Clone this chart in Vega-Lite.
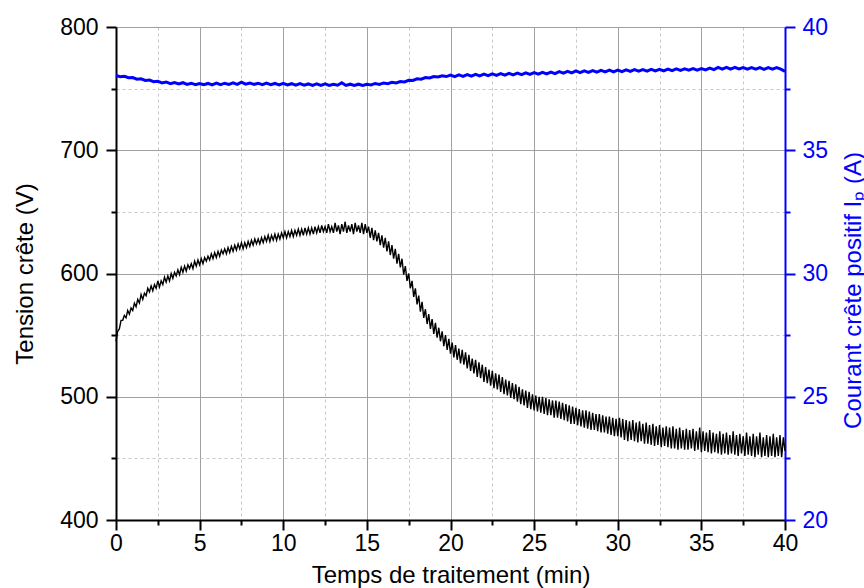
{
"$schema": "https://vega.github.io/schema/vega-lite/v6.json",
"width": 669, "height": 493,
"autosize": {"type": "none"},
"padding": {"left": 116, "top": 27, "right": 79, "bottom": 68},
"background": "white",
"config": {"view": {"stroke": null}, "font": "Liberation Sans"},
"datasets": {
"tension": [
{"t":0,"v":545},{"t":0.1,"v":553},{"t":0.2,"v":555},{"t":0.3,"v":562},{"t":0.4,"v":562},{"t":0.5,"v":566},{"t":0.6,"v":564},{"t":0.7,"v":570},{"t":0.8,"v":567},{"t":0.9,"v":572},
{"t":1,"v":570},{"t":1.1,"v":576},{"t":1.2,"v":573},{"t":1.3,"v":579},{"t":1.4,"v":576},{"t":1.5,"v":583},{"t":1.6,"v":579},{"t":1.7,"v":584},{"t":1.8,"v":582},{"t":1.9,"v":588},
{"t":2,"v":585},{"t":2.1,"v":590},{"t":2.2,"v":586},{"t":2.3,"v":591},{"t":2.4,"v":588},{"t":2.5,"v":594},{"t":2.6,"v":589},{"t":2.7,"v":594},{"t":2.8,"v":591},{"t":2.9,"v":597},
{"t":3,"v":593},{"t":3.1,"v":598},{"t":3.2,"v":594},{"t":3.3,"v":600},{"t":3.4,"v":596},{"t":3.5,"v":601},{"t":3.6,"v":598},{"t":3.7,"v":603},{"t":3.8,"v":599},{"t":3.9,"v":605},
{"t":4,"v":601},{"t":4.1,"v":606},{"t":4.2,"v":602},{"t":4.3,"v":607},{"t":4.4,"v":604},{"t":4.5,"v":608},{"t":4.6,"v":604},{"t":4.7,"v":610},{"t":4.8,"v":606},{"t":4.9,"v":611},
{"t":5,"v":607},{"t":5.1,"v":612},{"t":5.2,"v":608},{"t":5.3,"v":613},{"t":5.4,"v":610},{"t":5.5,"v":614},{"t":5.6,"v":611},{"t":5.7,"v":616},{"t":5.8,"v":612},{"t":5.9,"v":617},
{"t":6,"v":613},{"t":6.1,"v":618},{"t":6.2,"v":614},{"t":6.3,"v":619},{"t":6.4,"v":616},{"t":6.5,"v":620},{"t":6.6,"v":616},{"t":6.7,"v":621},{"t":6.8,"v":617},{"t":6.9,"v":622},
{"t":7,"v":618},{"t":7.1,"v":623},{"t":7.2,"v":619},{"t":7.3,"v":624},{"t":7.4,"v":620},{"t":7.5,"v":625},{"t":7.6,"v":620},{"t":7.7,"v":625},{"t":7.8,"v":621},{"t":7.9,"v":626},
{"t":8,"v":622},{"t":8.1,"v":627},{"t":8.2,"v":623},{"t":8.3,"v":628},{"t":8.4,"v":624},{"t":8.5,"v":628},{"t":8.6,"v":624},{"t":8.7,"v":629},{"t":8.8,"v":625},{"t":8.9,"v":630},
{"t":9,"v":626},{"t":9.1,"v":631},{"t":9.2,"v":626},{"t":9.3,"v":631},{"t":9.4,"v":627},{"t":9.5,"v":632},{"t":9.6,"v":627},{"t":9.7,"v":632},{"t":9.8,"v":628},{"t":9.9,"v":633},
{"t":10,"v":629},{"t":10.1,"v":634},{"t":10.2,"v":629},{"t":10.3,"v":634},{"t":10.4,"v":630},{"t":10.5,"v":635},{"t":10.6,"v":630},{"t":10.7,"v":635},{"t":10.8,"v":631},{"t":10.9,"v":636},
{"t":11,"v":631},{"t":11.1,"v":636},{"t":11.2,"v":631},{"t":11.3,"v":637},{"t":11.4,"v":632},{"t":11.5,"v":637},{"t":11.6,"v":632},{"t":11.7,"v":637},{"t":11.8,"v":632},{"t":11.9,"v":638},
{"t":12,"v":633},{"t":12.1,"v":638},{"t":12.2,"v":633},{"t":12.3,"v":639},{"t":12.4,"v":634},{"t":12.5,"v":638},{"t":12.6,"v":633},{"t":12.7,"v":640},{"t":12.8,"v":634},{"t":12.9,"v":638},
{"t":13,"v":633},{"t":13.1,"v":641},{"t":13.2,"v":634},{"t":13.3,"v":639},{"t":13.4,"v":632},{"t":13.5,"v":640},{"t":13.6,"v":634},{"t":13.7,"v":642},{"t":13.8,"v":633},{"t":13.9,"v":639},
{"t":14,"v":634},{"t":14.1,"v":640},{"t":14.2,"v":632},{"t":14.3,"v":641},{"t":14.4,"v":634},{"t":14.5,"v":639},{"t":14.6,"v":633},{"t":14.7,"v":641},{"t":14.8,"v":632},{"t":14.9,"v":640},
{"t":15,"v":633},{"t":15.1,"v":638},{"t":15.2,"v":629},{"t":15.3,"v":637},{"t":15.4,"v":627},{"t":15.5,"v":635},{"t":15.6,"v":626},{"t":15.7,"v":633},{"t":15.8,"v":623},{"t":15.9,"v":631},
{"t":16,"v":621},{"t":16.1,"v":629},{"t":16.2,"v":618},{"t":16.3,"v":626},{"t":16.4,"v":615},{"t":16.5,"v":623},{"t":16.6,"v":612},{"t":16.7,"v":620},{"t":16.8,"v":608},{"t":16.9,"v":616},
{"t":17,"v":605},{"t":17.1,"v":612},{"t":17.2,"v":599},{"t":17.3,"v":606},{"t":17.4,"v":594},{"t":17.5,"v":600},{"t":17.6,"v":588},{"t":17.7,"v":594},{"t":17.8,"v":581},{"t":17.9,"v":588},
{"t":18,"v":575},{"t":18.1,"v":582},{"t":18.2,"v":569},{"t":18.3,"v":577},{"t":18.4,"v":564},{"t":18.5,"v":571},{"t":18.6,"v":559},{"t":18.7,"v":567},{"t":18.8,"v":555},{"t":18.9,"v":563},
{"t":19,"v":551},{"t":19.1,"v":560},{"t":19.2,"v":548},{"t":19.3,"v":556},{"t":19.4,"v":545},{"t":19.5,"v":553},{"t":19.6,"v":541},{"t":19.7,"v":550},{"t":19.8,"v":538},{"t":19.9,"v":547},
{"t":20,"v":535},{"t":20.1,"v":544},{"t":20.2,"v":532},{"t":20.3,"v":542},{"t":20.4,"v":530},{"t":20.5,"v":539},{"t":20.6,"v":527},{"t":20.7,"v":538},{"t":20.8,"v":526},{"t":20.9,"v":536},
{"t":21,"v":523},{"t":21.1,"v":534},{"t":21.2,"v":521},{"t":21.3,"v":531},{"t":21.4,"v":519},{"t":21.5,"v":530},{"t":21.6,"v":516},{"t":21.7,"v":528},{"t":21.8,"v":515},{"t":21.9,"v":526},
{"t":22,"v":512},{"t":22.1,"v":524},{"t":22.2,"v":511},{"t":22.3,"v":522},{"t":22.4,"v":509},{"t":22.5,"v":521},{"t":22.6,"v":507},{"t":22.7,"v":519},{"t":22.8,"v":506},{"t":22.9,"v":518},
{"t":23,"v":504},{"t":23.1,"v":516},{"t":23.2,"v":502},{"t":23.3,"v":514},{"t":23.4,"v":501},{"t":23.5,"v":513},{"t":23.6,"v":499},{"t":23.7,"v":511},{"t":23.8,"v":498},{"t":23.9,"v":510},
{"t":24,"v":496},{"t":24.1,"v":508},{"t":24.2,"v":494},{"t":24.3,"v":506},{"t":24.4,"v":493},{"t":24.5,"v":505},{"t":24.6,"v":491},{"t":24.7,"v":504},{"t":24.8,"v":490},{"t":24.9,"v":502},
{"t":25,"v":489},{"t":25.1,"v":501},{"t":25.2,"v":488},{"t":25.3,"v":500},{"t":25.4,"v":487},{"t":25.5,"v":500},{"t":25.6,"v":486},{"t":25.7,"v":499},{"t":25.8,"v":485},{"t":25.9,"v":498},
{"t":26,"v":485},{"t":26.1,"v":497},{"t":26.2,"v":483},{"t":26.3,"v":497},{"t":26.4,"v":483},{"t":26.5,"v":496},{"t":26.6,"v":482},{"t":26.7,"v":495},{"t":26.8,"v":481},{"t":26.9,"v":494},
{"t":27,"v":480},{"t":27.1,"v":493},{"t":27.2,"v":478},{"t":27.3,"v":492},{"t":27.4,"v":478},{"t":27.5,"v":491},{"t":27.6,"v":477},{"t":27.7,"v":490},{"t":27.8,"v":476},{"t":27.9,"v":489},
{"t":28,"v":475},{"t":28.1,"v":489},{"t":28.2,"v":474},{"t":28.3,"v":488},{"t":28.4,"v":473},{"t":28.5,"v":487},{"t":28.6,"v":473},{"t":28.7,"v":486},{"t":28.8,"v":472},{"t":28.9,"v":486},
{"t":29,"v":471},{"t":29.1,"v":485},{"t":29.2,"v":471},{"t":29.3,"v":484},{"t":29.4,"v":470},{"t":29.5,"v":484},{"t":29.6,"v":469},{"t":29.7,"v":483},{"t":29.8,"v":468},{"t":29.9,"v":482},
{"t":30,"v":468},{"t":30.1,"v":483},{"t":30.2,"v":467},{"t":30.3,"v":482},{"t":30.4,"v":465},{"t":30.5,"v":481},{"t":30.6,"v":464},{"t":30.7,"v":480},{"t":30.8,"v":465},{"t":30.9,"v":481},
{"t":31,"v":464},{"t":31.1,"v":479},{"t":31.2,"v":463},{"t":31.3,"v":480},{"t":31.4,"v":464},{"t":31.5,"v":478},{"t":31.6,"v":462},{"t":31.7,"v":479},{"t":31.8,"v":462},{"t":31.9,"v":477},
{"t":32,"v":461},{"t":32.1,"v":478},{"t":32.2,"v":460},{"t":32.3,"v":476},{"t":32.4,"v":461},{"t":32.5,"v":477},{"t":32.6,"v":459},{"t":32.7,"v":475},{"t":32.8,"v":460},{"t":32.9,"v":476},
{"t":33,"v":459},{"t":33.1,"v":475},{"t":33.2,"v":458},{"t":33.3,"v":476},{"t":33.4,"v":458},{"t":33.5,"v":474},{"t":33.6,"v":457},{"t":33.7,"v":475},{"t":33.8,"v":458},{"t":33.9,"v":473},
{"t":34,"v":457},{"t":34.1,"v":474},{"t":34.2,"v":457},{"t":34.3,"v":473},{"t":34.4,"v":458},{"t":34.5,"v":474},{"t":34.6,"v":456},{"t":34.7,"v":472},{"t":34.8,"v":457},{"t":34.9,"v":475},
{"t":35,"v":455},{"t":35.1,"v":472},{"t":35.2,"v":456},{"t":35.3,"v":471},{"t":35.4,"v":455},{"t":35.5,"v":473},{"t":35.6,"v":454},{"t":35.7,"v":471},{"t":35.8,"v":455},{"t":35.9,"v":470},
{"t":36,"v":454},{"t":36.1,"v":472},{"t":36.2,"v":453},{"t":36.3,"v":470},{"t":36.4,"v":454},{"t":36.5,"v":471},{"t":36.6,"v":453},{"t":36.7,"v":469},{"t":36.8,"v":454},{"t":36.9,"v":472},
{"t":37,"v":453},{"t":37.1,"v":469},{"t":37.2,"v":452},{"t":37.3,"v":470},{"t":37.4,"v":454},{"t":37.5,"v":468},{"t":37.6,"v":452},{"t":37.7,"v":471},{"t":37.8,"v":453},{"t":37.9,"v":468},
{"t":38,"v":452},{"t":38.1,"v":470},{"t":38.2,"v":451},{"t":38.3,"v":468},{"t":38.4,"v":453},{"t":38.5,"v":471},{"t":38.6,"v":451},{"t":38.7,"v":467},{"t":38.8,"v":452},{"t":38.9,"v":469},
{"t":39,"v":451},{"t":39.1,"v":468},{"t":39.2,"v":452},{"t":39.3,"v":470},{"t":39.4,"v":451},{"t":39.5,"v":467},{"t":39.6,"v":452},{"t":39.7,"v":469},{"t":39.8,"v":451},{"t":39.9,"v":467},
{"t":40,"v":456}
],
"courant": [
{"t":0,"i":38.03},{"t":0.25,"i":37.98},{"t":0.5,"i":38.0},{"t":0.75,"i":37.94},{"t":1,"i":37.95},{"t":1.25,"i":37.88},{"t":1.5,"i":37.9},{"t":1.75,"i":37.83},
{"t":2,"i":37.85},{"t":2.25,"i":37.78},{"t":2.5,"i":37.8},{"t":2.75,"i":37.73},{"t":3,"i":37.77},{"t":3.25,"i":37.7},{"t":3.5,"i":37.75},{"t":3.75,"i":37.69},
{"t":4,"i":37.74},{"t":4.25,"i":37.67},{"t":4.5,"i":37.72},{"t":4.75,"i":37.66},{"t":5,"i":37.71},{"t":5.25,"i":37.66},{"t":5.5,"i":37.71},{"t":5.75,"i":37.65},
{"t":6,"i":37.72},{"t":6.25,"i":37.66},{"t":6.5,"i":37.72},{"t":6.75,"i":37.67},{"t":7,"i":37.73},{"t":7.25,"i":37.67},{"t":7.5,"i":37.76},{"t":7.75,"i":37.68},
{"t":8,"i":37.73},{"t":8.25,"i":37.67},{"t":8.5,"i":37.72},{"t":8.75,"i":37.66},{"t":9,"i":37.72},{"t":9.25,"i":37.66},{"t":9.5,"i":37.71},{"t":9.75,"i":37.65},
{"t":10,"i":37.71},{"t":10.25,"i":37.65},{"t":10.5,"i":37.7},{"t":10.75,"i":37.64},{"t":11,"i":37.7},{"t":11.25,"i":37.64},{"t":11.5,"i":37.69},{"t":11.75,"i":37.63},
{"t":12,"i":37.69},{"t":12.25,"i":37.63},{"t":12.5,"i":37.69},{"t":12.75,"i":37.63},{"t":13,"i":37.68},{"t":13.25,"i":37.64},{"t":13.5,"i":37.74},{"t":13.75,"i":37.63},
{"t":14,"i":37.68},{"t":14.25,"i":37.63},{"t":14.5,"i":37.68},{"t":14.75,"i":37.63},{"t":15,"i":37.68},{"t":15.25,"i":37.65},{"t":15.5,"i":37.71},{"t":15.75,"i":37.67},
{"t":16,"i":37.73},{"t":16.25,"i":37.7},{"t":16.5,"i":37.76},{"t":16.75,"i":37.73},{"t":17,"i":37.79},{"t":17.25,"i":37.77},{"t":17.5,"i":37.84},{"t":17.75,"i":37.83},
{"t":18,"i":37.9},{"t":18.25,"i":37.88},{"t":18.5,"i":37.95},{"t":18.75,"i":37.93},{"t":19,"i":37.99},{"t":19.25,"i":37.97},{"t":19.5,"i":38.02},{"t":19.75,"i":37.99},
{"t":20,"i":38.05},{"t":20.25,"i":37.99},{"t":20.5,"i":38.06},{"t":20.75,"i":38.0},{"t":21,"i":38.07},{"t":21.25,"i":38.01},{"t":21.5,"i":38.08},{"t":21.75,"i":38.02},
{"t":22,"i":38.09},{"t":22.25,"i":38.03},{"t":22.5,"i":38.1},{"t":22.75,"i":38.04},{"t":23,"i":38.11},{"t":23.25,"i":38.05},{"t":23.5,"i":38.12},{"t":23.75,"i":38.06},
{"t":24,"i":38.13},{"t":24.25,"i":38.07},{"t":24.5,"i":38.14},{"t":24.75,"i":38.08},{"t":25,"i":38.15},{"t":25.25,"i":38.09},{"t":25.5,"i":38.16},{"t":25.75,"i":38.1},
{"t":26,"i":38.17},{"t":26.25,"i":38.11},{"t":26.5,"i":38.19},{"t":26.75,"i":38.13},{"t":27,"i":38.2},{"t":27.25,"i":38.14},{"t":27.5,"i":38.22},{"t":27.75,"i":38.15},
{"t":28,"i":38.22},{"t":28.25,"i":38.16},{"t":28.5,"i":38.23},{"t":28.75,"i":38.17},{"t":29,"i":38.24},{"t":29.25,"i":38.18},{"t":29.5,"i":38.25},{"t":29.75,"i":38.18},
{"t":30,"i":38.25},{"t":30.25,"i":38.19},{"t":30.5,"i":38.26},{"t":30.75,"i":38.2},{"t":31,"i":38.27},{"t":31.25,"i":38.21},{"t":31.5,"i":38.27},{"t":31.75,"i":38.21},
{"t":32,"i":38.28},{"t":32.25,"i":38.22},{"t":32.5,"i":38.28},{"t":32.75,"i":38.22},{"t":33,"i":38.29},{"t":33.25,"i":38.23},{"t":33.5,"i":38.3},{"t":33.75,"i":38.24},
{"t":34,"i":38.3},{"t":34.25,"i":38.25},{"t":34.5,"i":38.31},{"t":34.75,"i":38.25},{"t":35,"i":38.31},{"t":35.25,"i":38.26},{"t":35.5,"i":38.33},{"t":35.75,"i":38.27},
{"t":36,"i":38.36},{"t":36.25,"i":38.29},{"t":36.5,"i":38.36},{"t":36.75,"i":38.29},{"t":37,"i":38.36},{"t":37.25,"i":38.3},{"t":37.5,"i":38.35},{"t":37.75,"i":38.29},
{"t":38,"i":38.35},{"t":38.25,"i":38.29},{"t":38.5,"i":38.35},{"t":38.75,"i":38.28},{"t":39,"i":38.35},{"t":39.25,"i":38.29},{"t":39.5,"i":38.35},{"t":39.75,"i":38.29},
{"t":40,"i":38.2}
]
},
"encoding": {
"x": {"field": "t", "type": "quantitative",
 "scale": {"domain": [0, 40], "nice": false, "zero": false},
 "axis": {
  "title": "Temps de traitement (min)",
  "values": [0,2.5,5,7.5,10,12.5,15,17.5,20,22.5,25,27.5,30,32.5,35,37.5,40],
  "labelExpr": "datum.value % 5 == 0 ? datum.label : ''",
  "labelFlush": false, "labelOverlap": false, "labelBound": false,
  "labelFontSize": 23, "labelColor": "black", "labelPadding": 2,
  "titleFontSize": 24, "titleFontWeight": "normal", "titleColor": "black",
  "titleBaseline": "alphabetic", "titleY": 62,
  "domainColor": "black", "domainWidth": 2,
  "tickColor": "black", "tickWidth": 2,
  "tickSize": {"condition": {"test": "datum.value % 5 != 0", "value": 5}, "value": 10},
  "grid": true,
  "gridColor": {"condition": {"test": "datum.value % 5 != 0", "value": "#c8c8c8"}, "value": "#a0a0a0"},
  "gridDash": {"condition": {"test": "datum.value % 5 != 0", "value": [3, 3]}, "value": []},
  "gridWidth": 1
 }}
},
"layer": [
{"data": {"name": "tension"},
 "mark": {"type": "line", "color": "black", "strokeWidth": 1.4},
 "encoding": {
  "y": {"field": "v", "type": "quantitative",
   "scale": {"domain": [400, 800], "nice": false, "zero": false},
   "axis": {
    "title": "Tension crête (V)",
    "values": [400,450,500,550,600,650,700,750,800],
    "labelExpr": "datum.value % 100 == 0 ? datum.label : ''",
    "labelFontSize": 23, "labelColor": "black", "labelPadding": 8,
    "titleFontSize": 24, "titleFontWeight": "normal", "titleColor": "black",
    "titleBaseline": "alphabetic", "titleX": -84,
    "domainColor": "black", "domainWidth": 2,
    "tickColor": "black", "tickWidth": 2,
    "tickSize": {"condition": {"test": "datum.value % 100 != 0", "value": 5}, "value": 10},
    "grid": true,
    "gridColor": {"condition": {"test": "datum.value % 100 != 0", "value": "#c8c8c8"}, "value": "#a0a0a0"},
    "gridDash": {"condition": {"test": "datum.value % 100 != 0", "value": [3, 3]}, "value": []},
    "gridWidth": 1
   }}
 }},
{"data": {"name": "courant"},
 "mark": {"type": "line", "color": "#0000ff", "strokeWidth": 3},
 "encoding": {
  "y": {"field": "i", "type": "quantitative",
   "scale": {"domain": [20, 40], "nice": false, "zero": false},
   "axis": {
    "orient": "right",
    "title": "Courant crête positif Iₚ (A)",
    "values": [20,22.5,25,27.5,30,32.5,35,37.5,40],
    "labelExpr": "datum.value % 5 == 0 ? datum.label : ''",
    "labelFontSize": 23, "labelColor": "#0000ff", "labelPadding": 7,
    "titleFontSize": 24, "titleFontWeight": "normal", "titleColor": "#0000ff",
    "titleAngle": 270, "titleBaseline": "alphabetic", "titleX": 75, "titleY": 263,
    "domainColor": "#0000ff", "domainWidth": 2,
    "tickColor": "#0000ff", "tickWidth": 2,
    "tickSize": {"condition": {"test": "datum.value % 5 != 0", "value": 5}, "value": 10},
    "grid": false
   }}
 }}
],
"resolve": {"scale": {"y": "independent"}, "axis": {"y": "independent"}}
}
